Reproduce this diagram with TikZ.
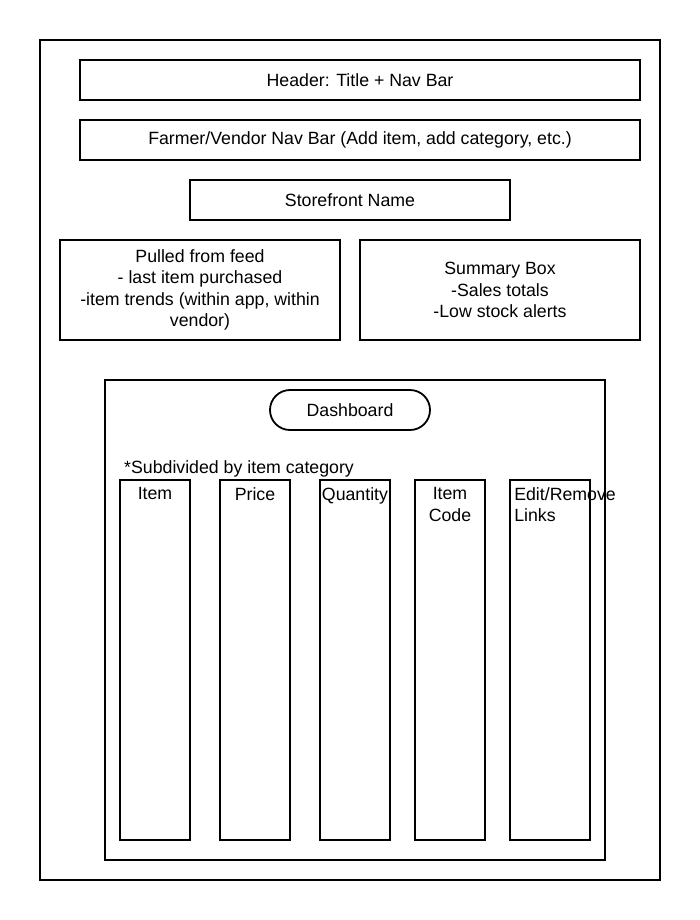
\documentclass[tikz,border=0pt]{standalone}
\usepackage{fontspec}
\setmainfont{Liberation Sans}
\begin{document}
\begin{tikzpicture}[x=1bp,y=-1bp,
  box/.style={draw,line width=1.8bp,inner sep=0pt,align=center,font=\fontsize{17.8}{21.6}\selectfont},
  txt/.style={inner sep=0pt,font=\fontsize{17.8}{21.6}\selectfont}]
\useasboundingbox (0,0) rectangle (700,920);
\node[box,minimum width=620bp,minimum height=840bp] (outer) at (350,460) {};
\node[box,minimum width=560bp,minimum height=40bp] (header) at (360,80) {Header: Title + Nav Bar};
\node[box,minimum width=560bp,minimum height=40bp] (farmer) at (360,140) {Farmer/Vendor Nav Bar (Add item, add category, etc.)};
\node[box,minimum width=320bp,minimum height=40bp] (store) at (350,200) {Storefront Name};
\node[box,minimum width=280bp,minimum height=100bp] (pulled) at (200,290) {Pulled from feed\\- last item purchased\\-item trends (within app, within\\vendor)};
\node[box,minimum width=280bp,minimum height=100bp] (summary) at (500,290) {Summary Box\\-Sales totals\\-Low stock alerts};
\node[box,minimum width=500bp,minimum height=480bp] (dash) at (355,620) {};
\node[box,minimum width=160bp,minimum height=40bp,rounded corners=20bp] (dashtitle) at (350,410) {Dashboard};
\node[txt,anchor=base west] (sub) at (124,473) {*Subdivided by item category};
\node[box,minimum width=70bp,minimum height=360bp] (item) at (155,660) {};
\node[box,minimum width=70bp,minimum height=360bp] (price) at (255,660) {};
\node[box,minimum width=70bp,minimum height=360bp] (qty) at (355,660) {};
\node[box,minimum width=70bp,minimum height=360bp] (code) at (450,660) {};
\node[box,minimum width=80bp,minimum height=360bp] (edit) at (550,660) {};
\node[txt,anchor=north,yshift=-8bp,align=center] (itemt) at (item.north) {Item};
\node[txt,anchor=north,yshift=-8bp,align=center] (pricet) at (price.north) {Price};
\node[txt,anchor=north,yshift=-8bp,align=center] (qtyt) at (qty.north) {Quantity};
\node[txt,anchor=north,yshift=-8bp,align=center] (codet) at (code.north) {Item\\Code};
\node[txt,anchor=north west,xshift=5bp,yshift=-8bp,align=left] (editt) at (edit.north west) {Edit/Remove\\Links};
\end{tikzpicture}
\end{document}
